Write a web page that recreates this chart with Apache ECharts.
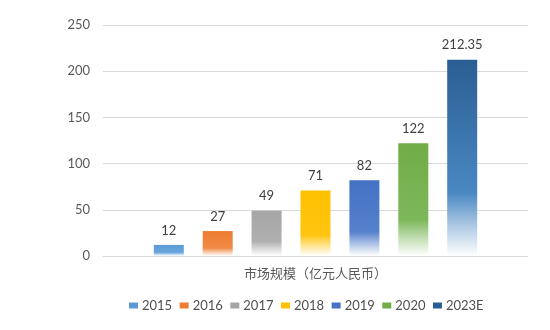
<!DOCTYPE html>
<html><head><meta charset="utf-8">
<script src="https://cdn.jsdelivr.net/npm/echarts@6/dist/echarts.min.js"></script>
<style>html,body{margin:0;padding:0;background:#fff}#c{width:550px;height:330px}</style>
</head><body><div id="c"></div>
<script>
var categories = ['市场规模（亿元人民币）'];
var years = ['2015','2016','2017','2018','2019','2020','2023E'];
var values = [12, 27, 49, 71, 82, 122, 212.35];
var yTicks = [0, 50, 100, 150, 200, 250];

var topColors = ['#5b9bd5','#ed7d31','#a5a5a5','#ffc000','#4472c4','#70ad47','#2a5e93'];
var midColors = ['#6aa5db','#f08a45','#b0b0b0','#ffc510','#5580cc','#7cb85a','#4a88c2'];
var legendColors = ['#5b9bd5','#ed7d31','#a5a5a5','#ffc000','#4472c4','#70ad47','#2a5e93'];

var font = 'Lato, "Open Sans", sans-serif';
var series = years.map(function(y, i){
  return {
    name: y, type: 'bar', barWidth: 30, barGap: '63%',
    data: [values[i]],
    itemStyle: {
      color: new echarts.graphic.LinearGradient(0,0,0,1,[
        {offset:0, color: topColors[i]},
        {offset:0.68, color: midColors[i]},
        {offset:1, color: 'rgba(255,255,255,0.9)'}
      ])
    },
    label: {show: true, position: 'top', color: '#404040', fontSize: 13, fontFamily: font, distance: 8}
  };
});

var chart = echarts.init(document.getElementById('c'));
chart.setOption({
  animation: false,
  backgroundColor: '#fff',
  color: legendColors,
  grid: {left: 103, right: 22, top: 25, bottom: 74},
  legend: {
    top: 294, left: 124, data: years.map(function(y,i){return {name:y, itemStyle:{color:legendColors[i]}};}),
    itemWidth: 9, itemHeight: 6, itemGap: 7.5, icon: 'rect',
    textStyle: {color: '#505050', fontSize: 13, fontFamily: font, padding: [0,0,0,-1]}
  },
  xAxis: {
    type: 'category', data: categories,
    axisLine: {lineStyle: {color: '#d9d9d9'}},
    axisTick: {show: false},
    axisLabel: {color: '#595959', fontSize: 13, fontFamily: '"Noto Sans CJK SC", sans-serif', margin: 11}
  },
  yAxis: {
    type: 'value', min: yTicks[0], max: yTicks[yTicks.length-1], interval: 50,
    axisLine: {show: false}, axisTick: {show: false},
    splitLine: {lineStyle: {color: '#d9d9d9'}},
    axisLabel: {color: '#595959', fontSize: 13, fontFamily: font, margin: 13}
  },
  series: series
});
</script></body></html>
